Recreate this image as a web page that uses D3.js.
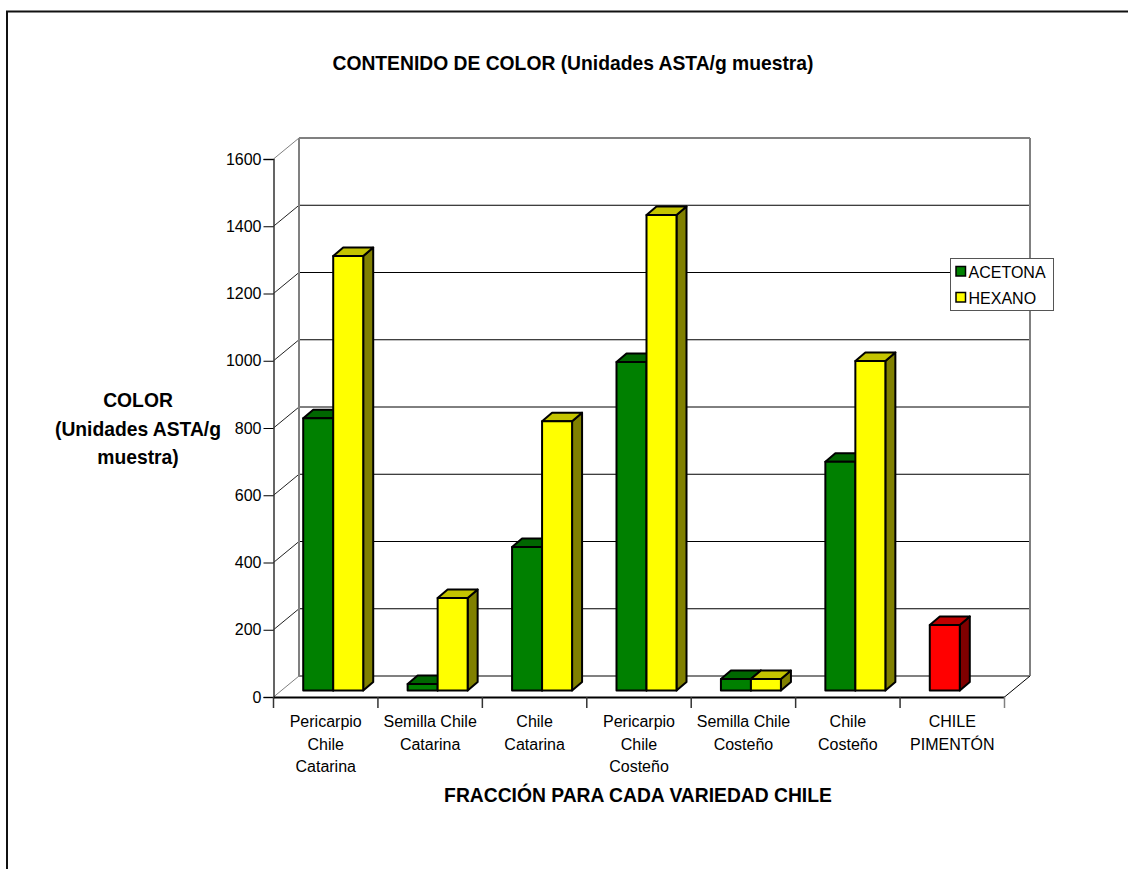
<!DOCTYPE html>
<html>
<head>
<meta charset="utf-8">
<title>Contenido de color</title>
<script src="https://cdnjs.cloudflare.com/ajax/libs/d3/7.8.5/d3.min.js"></script>
<style>
  html, body { margin: 0; padding: 0; background: #fff; }
  svg { display: block; font-family: "Liberation Sans", Arial, sans-serif; }
  text { fill: #000; }
  .heading { font-size: 19.3px; font-weight: bold; text-anchor: middle; }
  .tick text { font-size: 16px; fill: #000; }
</style>
</head>
<body>
<svg id="chart" width="1128" height="869"></svg>
<script>
// Chart content
const chartTitle = "CONTENIDO DE COLOR (Unidades ASTA/g muestra)";
const yTitleLines = ["COLOR", "(Unidades ASTA/g", "muestra)"];
const xTitle = "FRACCIÓN PARA CADA VARIEDAD CHILE";
const categories = [
  ["Pericarpio", "Chile", "Catarina"],
  ["Semilla Chile", "Catarina"],
  ["Chile", "Catarina"],
  ["Pericarpio", "Chile", "Costeño"],
  ["Semilla Chile", "Costeño"],
  ["Chile", "Costeño"],
  ["CHILE", "PIMENTÓN"]
];
const seriesNames = ["ACETONA", "HEXANO"];
const acetona = [810, 19, 427, 977, 34, 680, 195];
const hexano = [1292, 275, 801, 1414, 34, 980, null];
const yTicks = [0, 200, 400, 600, 800, 1000, 1200, 1400, 1600];

// Face colours for each box: front, top, side
const greenFaces = ["#008000", "#006600", "#004d00"];
const yellowFaces = ["#ffff00", "#c4c400", "#808000"];
const redFaces = ["#ff0000", "#c00000", "#800000"];
const pimentonIndex = 6;

// Oblique projection of the plot box
const frontLeft = 273.5, frontRight = 1004.5, frontBottom = 697, frontTop = 159;
const wallDx = 25.5, wallDy = -21;
const barDx = 10, barDy = -8.5;   // depth of each box
const barShiftX = 7.5, barShiftY = -6.5; // gap between the floor edge and the box fronts

const svg = d3.select("#chart");

const x = d3.scaleBand().domain(d3.range(categories.length)).range([frontLeft, frontRight]);
const slot = d3.scaleBand().domain(d3.range(seriesNames.length)).range([0, 60]);
const y = d3.scaleLinear().domain([0, 1600]).range([frontBottom, frontTop]);

// Page frame: top and left rules only
svg.append("path").attr("d", "M7,869V11.5H1128").attr("fill", "none")
  .attr("stroke", "#111").attr("stroke-width", 2);

// Back wall, side wall and floor
const gray = "#808080";
const walls = svg.append("g").attr("fill", "none");
const line = (x1, y1, x2, y2, color, w) => walls.append("line")
  .attr("x1", x1).attr("y1", y1).attr("x2", x2).attr("y2", y2)
  .attr("stroke", color).attr("stroke-width", w);

yTicks.forEach(t => {
  const edge = t === 0 || t === 1600;
  const c = edge ? gray : "#000";
  line(frontLeft, y(t), frontLeft + wallDx, y(t) + wallDy, edge ? gray : "#222", 1);
  line(frontLeft + wallDx, y(t) + wallDy, frontRight + wallDx, y(t) + wallDy, c, edge ? 2 : 1);
});
line(frontLeft + wallDx, y(0) + wallDy, frontLeft + wallDx, y(1600) + wallDy, gray, 2);
line(frontRight + wallDx, y(0) + wallDy, frontRight + wallDx, y(1600) + wallDy, gray, 2);
line(frontRight, y(0), frontRight + wallDx, y(0) + wallDy, "#000", 1);

// Boxes, drawn left to right so each one overlaps the previous side face
const bars = svg.append("g").attr("stroke", "#000").attr("stroke-width", 2).attr("stroke-linejoin", "round");
function drawBox(cat, s, value, faces) {
  const left = x(cat) + (x.bandwidth() - slot.step() * 2) / 2 + slot(s) + barShiftX;
  const right = left + slot.bandwidth();
  const bottom = y(0) + barShiftY;
  const top = y(value) + barShiftY;
  const poly = pts => pts.map(p => p.join(",")).join(" ");
  bars.append("polygon").attr("fill", faces[2]).attr("points", poly([
    [right, top], [right + barDx, top + barDy], [right + barDx, bottom + barDy], [right, bottom]
  ]));
  bars.append("polygon").attr("fill", faces[1]).attr("points", poly([
    [left, top], [left + barDx, top + barDy], [right + barDx, top + barDy], [right, top]
  ]));
  bars.append("rect").attr("fill", faces[0])
    .attr("x", left).attr("y", top).attr("width", right - left).attr("height", bottom - top);
}
categories.forEach((_, i) => {
  drawBox(i, 0, acetona[i], i === pimentonIndex ? redFaces : greenFaces);
  if (hexano[i] !== null) drawBox(i, 1, hexano[i], yellowFaces);
});

// Value axis
const yAxis = svg.append("g").attr("transform", `translate(${frontLeft},0)`)
  .call(d3.axisLeft(y).tickValues(yTicks).tickSize(10).tickPadding(2).tickFormat(d3.format("d")));
yAxis.select(".domain").attr("stroke", "#333").attr("stroke-width", 1.5);
yAxis.selectAll(".tick line").attr("stroke", "#000");

// Category axis: ticks sit on the band edges, labels wrap onto several lines
const xAxis = svg.append("g").attr("transform", `translate(0,${frontBottom})`)
  .call(d3.axisBottom(x).tickSize(0).tickFormat(""));
xAxis.select(".domain").attr("stroke", "#000").attr("stroke-width", 2);
d3.range(categories.length + 1).forEach(i => {
  const px = i < categories.length ? x(i) : frontRight;
  xAxis.append("line").attr("x1", px).attr("x2", px).attr("y1", 0).attr("y2", 11)
    .attr("stroke", i === categories.length ? gray : "#333").attr("stroke-width", 1.5);
});
xAxis.selectAll(".tick text").each(function (i) {
  const label = d3.select(this).attr("y", 0).attr("dy", null).attr("text-anchor", "middle");
  categories[i].forEach((part, k) => {
    label.append("tspan").attr("x", 0).attr("y", 30 + k * 22.7).text(part);
  });
});

// Legend
const legend = svg.append("g");
legend.append("rect").attr("x", 950.5).attr("y", 258.5).attr("width", 103).attr("height", 52)
  .attr("fill", "#fff").attr("stroke", "#555").attr("stroke-width", 1);
seriesNames.forEach((name, i) => {
  const rowY = 266.5 + i * 26;
  legend.append("rect").attr("x", 956).attr("y", rowY).attr("width", 9.5).attr("height", 9.5)
    .attr("fill", [greenFaces, yellowFaces][i][0]).attr("stroke", "#000").attr("stroke-width", 1.5);
  legend.append("text").attr("x", 968.5).attr("y", rowY + 11).attr("font-size", 16).text(name);
});

// Titles
svg.append("text").attr("class", "heading").attr("x", 573).attr("y", 70).text(chartTitle);
svg.append("text").attr("class", "heading").attr("x", 638).attr("y", 802).text(xTitle);
yTitleLines.forEach((part, k) => {
  svg.append("text").attr("class", "heading").attr("x", 138).attr("y", 407 + k * 28.5).text(part);
});
</script>
</body>
</html>
